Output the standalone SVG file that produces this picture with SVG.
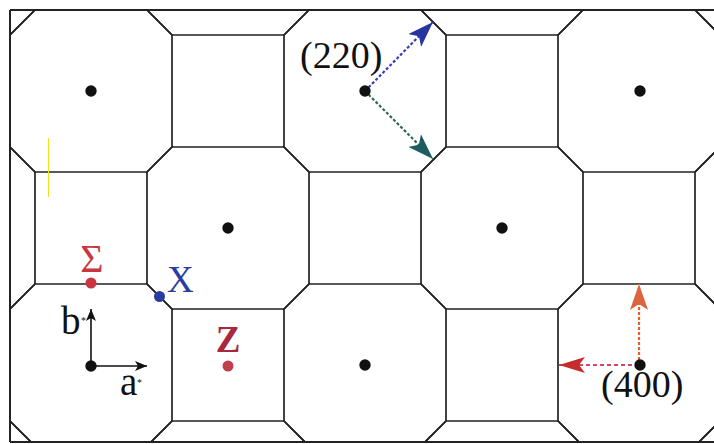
<svg xmlns="http://www.w3.org/2000/svg" xmlns:xlink="http://www.w3.org/1999/xlink" width="714" height="444" viewBox="0 0 714 444">
<style>
.tile{fill:none;stroke:#222;stroke-width:1.7;stroke-linejoin:miter}
.frame{fill:none;stroke:#222;stroke-width:2}
.dot{fill:#111}
.lbl{font-family:"Liberation Serif","Times New Roman",serif;font-size:37px;fill:#111}
.sup{font-family:"Liberation Serif","Times New Roman",serif;font-size:10px;fill:#111}
.axis{stroke:#111;stroke-width:1.6;fill:none}
.dash{fill:none;stroke-width:2.2}
</style>
<defs>
<polygon id="oct" points="-56,-81 56,-81 81,-56 81,56 56,81 -56,81 -81,56 -81,-56"/>
<clipPath id="clip"><rect x="10" y="10" width="704" height="432"/></clipPath>
<marker id="mBlack" viewBox="0 0 12 10" refX="12" refY="5" markerWidth="12" markerHeight="10" markerUnits="userSpaceOnUse" orient="auto"><path d="M0,0 L12,5 L0,10 L3,5 Z" fill="#111"/></marker>
<marker id="mBlue" viewBox="0 0 26 18" refX="26" refY="9" markerWidth="26" markerHeight="18" markerUnits="userSpaceOnUse" orient="auto"><path d="M0,0 L26,9 L0,18 L6,9 Z" fill="#26369c"/></marker>
<marker id="mGreen" viewBox="0 0 26 18" refX="26" refY="9" markerWidth="26" markerHeight="18" markerUnits="userSpaceOnUse" orient="auto"><path d="M0,0 L26,9 L0,18 L6,9 Z" fill="#1f5c62"/></marker>
<marker id="mOrange" viewBox="0 0 26 18" refX="26" refY="9" markerWidth="26" markerHeight="18" markerUnits="userSpaceOnUse" orient="auto"><path d="M0,0 L26,9 L0,18 L6,9 Z" fill="#dc6440"/></marker>
<marker id="mRed" viewBox="0 0 26 16" refX="26" refY="8" markerWidth="26" markerHeight="16" markerUnits="userSpaceOnUse" orient="auto"><path d="M0,0 L26,8 L0,16 L6,8 Z" fill="#c52c2c"/></marker>
</defs>
<rect width="714" height="444" fill="#fff"/>
<g id="tiling" clip-path="url(#clip)" class="tile">
<use xlink:href="#oct" href="#oct" x="-46" y="-46"/>
<use xlink:href="#oct" href="#oct" x="-46" y="228"/>
<use xlink:href="#oct" href="#oct" x="-46" y="502"/>
<use xlink:href="#oct" href="#oct" x="91" y="91"/>
<use xlink:href="#oct" href="#oct" x="91" y="365"/>
<use xlink:href="#oct" href="#oct" x="228" y="-46"/>
<use xlink:href="#oct" href="#oct" x="228" y="228"/>
<use xlink:href="#oct" href="#oct" x="228" y="502"/>
<use xlink:href="#oct" href="#oct" x="365" y="91"/>
<use xlink:href="#oct" href="#oct" x="365" y="365"/>
<use xlink:href="#oct" href="#oct" x="502" y="-46"/>
<use xlink:href="#oct" href="#oct" x="502" y="228"/>
<use xlink:href="#oct" href="#oct" x="502" y="502"/>
<use xlink:href="#oct" href="#oct" x="639" y="91"/>
<use xlink:href="#oct" href="#oct" x="639" y="365"/>
<use xlink:href="#oct" href="#oct" x="776" y="-46"/>
<use xlink:href="#oct" href="#oct" x="776" y="228"/>
<use xlink:href="#oct" href="#oct" x="776" y="502"/>
</g>
<g id="frame" class="frame">
<line x1="10" y1="10" x2="714" y2="10"/>
<line x1="10" y1="10" x2="10" y2="442"/>
<line x1="10" y1="442" x2="714" y2="442"/>
</g>
<line id="stray" x1="48.5" y1="138" x2="48.5" y2="197" stroke="#f2e21a" stroke-width="1"/>
<g id="connectors">
<line class="dash" x1="365" y1="91" x2="433" y2="22" stroke="#3a40b4" stroke-dasharray="3,2" marker-end="url(#mBlue)"/>
<line class="dash" x1="365" y1="91" x2="433" y2="159" stroke="#2f6a4c" stroke-dasharray="3,2" marker-end="url(#mGreen)"/>
<line class="dash" x1="639" y1="365" x2="639" y2="284" stroke="#e2622c" stroke-dasharray="3,2" marker-end="url(#mOrange)"/>
<line class="dash" x1="639" y1="365" x2="559" y2="365" stroke="#d24862" stroke-dasharray="4,3" marker-end="url(#mRed)"/>
<line class="axis" x1="91" y1="366" x2="91" y2="309" marker-end="url(#mBlack)"/>
<line class="axis" x1="91" y1="366" x2="147" y2="366" marker-end="url(#mBlack)"/>
</g>
<g id="dots">
<circle class="dot" cx="91" cy="91" r="5.7"/>
<circle class="dot" cx="365" cy="91" r="5.7"/>
<circle class="dot" cx="640" cy="91" r="5.7"/>
<circle class="dot" cx="228" cy="228" r="5.7"/>
<circle class="dot" cx="502" cy="228" r="5.7"/>
<circle class="dot" cx="91" cy="366" r="5.7"/>
<circle class="dot" cx="365" cy="365" r="5.7"/>
<circle class="dot" cx="640" cy="365" r="5.7"/>
</g>
<g id="node-sigma">
<circle cx="91" cy="283" r="5.5" fill="#c9363f"/>
<text class="lbl" x="92" y="272" text-anchor="middle" font-size="40" style="fill:#c9363f;font-size:40px">Σ</text>
</g>
<g id="node-x">
<circle cx="159.5" cy="296.5" r="5.5" fill="#2a3d9e"/>
<text class="lbl" x="167" y="292" style="fill:#2a3d9e">X</text>
</g>
<g id="node-z">
<circle cx="228" cy="366" r="5.5" fill="#c0404c"/>
<text class="lbl" x="228" y="352" text-anchor="middle" font-weight="bold" style="fill:#a8283e">Z</text>
</g>
<g id="node-220">
<text class="lbl" x="300" y="68" style="font-size:38px">(220)</text>
</g>
<g id="node-400">
<text class="lbl" x="601" y="397" style="font-size:38px">(400)</text>
</g>
<g id="node-axes">
<text class="lbl" x="61" y="334" style="font-size:39px">b</text><text class="sup" x="81" y="324">*</text>
<text class="lbl" x="120" y="395" style="font-size:39px">a</text><text class="sup" x="137" y="386">*</text>
</g>
</svg>
